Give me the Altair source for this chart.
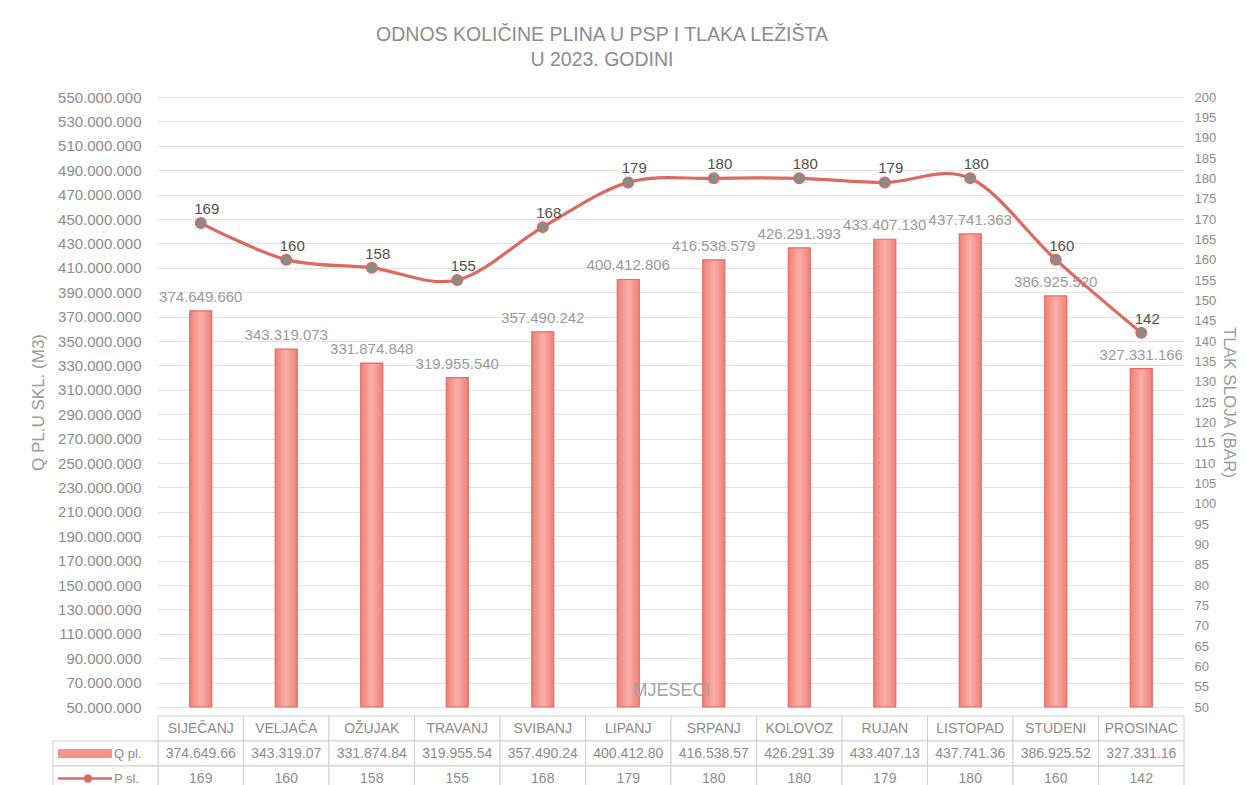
import altair as alt
import pandas as pd

months = ["SIJEČANJ", "VELJAČA", "OŽUJAK", "TRAVANJ", "SVIBANJ", "LIPANJ",
          "SRPANJ", "KOLOVOZ", "RUJAN", "LISTOPAD", "STUDENI", "PROSINAC"]
q_pl = [374649660, 343319073, 331874848, 319955540, 357490242, 400412806,
        416538579, 426291393, 433407130, 437741363, 386925520, 327331166]
p_sl = [169, 160, 158, 155, 168, 179, 180, 180, 179, 180, 160, 142]

left_ticks = list(range(50_000_000, 550_000_001, 20_000_000))
right_ticks = list(range(50, 201, 5))

title_lines = ["ODNOS KOLIČINE PLINA U PSP I TLAKA LEŽIŠTA", "U 2023. GODINI"]
left_title = "Q PL.U SKL. (M3)"
right_title = "TLAK SLOJA (BAR)"
x_title = "MJESECI"
row_names = ["Q pl.", "P sl."]

def dotted(v):
    return f"{v:,}".replace(",", ".")

df = pd.DataFrame({
    "month": months,
    "q": q_pl,
    "p": p_sl,
    "qlabel": [dotted(v) for v in q_pl],
})

W = 1026
H = 610
FONT = "Liberation Sans"
GRAY = "#8c8c8c"
BAR_FILL = "#f4948c"
BAR_STROKE = "#e46c64"
LINE_COLOR = "#da6a62"

bar_gradient = alt.LinearGradient(
    gradient="linear", x1=0, x2=1, y1=0, y2=0,
    stops=[alt.GradientStop(color="#ef8078", offset=0),
           alt.GradientStop(color="#f9b0a8", offset=0.5),
           alt.GradientStop(color="#ef8078", offset=1)])

xscale = alt.Scale(paddingInner=0, paddingOuter=0)
xenc = alt.X("month:N", sort=months, scale=xscale,
             axis=alt.Axis(labels=False, ticks=False, domain=False, grid=False,
                           title=x_title, titleY=-8, titleBaseline="bottom",
                           titleFontSize=18, titleColor="#a4a4a4", zindex=2,
                           titleFontWeight="normal", titleFont=FONT))

yleft_enc = alt.Y("q:Q",
                  scale=alt.Scale(domain=[50_000_000, 550_000_000], nice=False, zero=False),
                  axis=alt.Axis(values=left_ticks, title=left_title, labelOverlap=False,
                                labelExpr="replace(replace(format(datum.value, ',d'), ',', '.'), ',', '.')",
                                labelFont=FONT, labelFontSize=15, labelColor=GRAY,
                                labelPadding=17, ticks=False, domain=False,
                                grid=True, gridColor="#e3e3e3", gridWidth=1,
                                titleFont=FONT, titleFontSize=17, titleColor="#9a9a9a",
                                titleFontWeight="normal", titlePadding=10))

yright_enc = alt.Y("p:Q",
                   scale=alt.Scale(domain=[50, 200], nice=False, zero=False),
                   axis=alt.Axis(orient="right", values=right_ticks, title=right_title,
                                 labelOverlap=False,
                                 labelFont=FONT, labelFontSize=13, labelColor=GRAY,
                                 labelPadding=10, ticks=False, domain=False, grid=False,
                                 titleFont=FONT, titleFontSize=17, titleColor="#9a9a9a",
                                 titleFontWeight="normal", titlePadding=4, titleAngle=90))

base = alt.Chart()

bars = base.mark_bar(size=22, fill=bar_gradient, stroke=BAR_STROKE, strokeWidth=1.2).encode(
    y2=alt.datum(50_000_000),
)
bar_labels = base.mark_text(font=FONT, fontSize=15, color="#9a9a9a", dy=-14).encode(
    text="qlabel:N",
)

line = base.mark_line(color=LINE_COLOR, strokeWidth=3.2, interpolate="cardinal")
points = base.mark_point(filled=True, size=110, fill="#878d88", stroke=LINE_COLOR,
                         strokeWidth=1.5, opacity=1)
line_labels = base.mark_text(font=FONT, fontSize=15, color="#505050", dy=-14, dx=6).encode(
    text="p:Q",
)

left_layer = alt.layer(bars, bar_labels).encode(y=yleft_enc)
right_layer = alt.layer(line, points, line_labels).encode(y=yright_enc)

main = alt.layer(left_layer, right_layer, data=df).encode(x=xenc).resolve_scale(
    y="independent").properties(
    width=W, height=H,
    title=alt.TitleParams(title_lines, font=FONT, fontSize=19.5, fontWeight="normal",
                          color="#8c8c8c", anchor="middle", dx=-69, offset=20,
                          lineHeight=25),
)

# data table below the chart
rows = []
for i, m in enumerate(months):
    rows.append({"month": m, "row": "M", "text": m})
    rows.append({"month": m, "row": "Q", "text": dotted(q_pl[i])[:-1]})
    rows.append({"month": m, "row": "P", "text": str(p_sl[i])})
tdf = pd.DataFrame(rows)
legend_df = pd.DataFrame({"row": ["Q", "P"], "name": row_names})

TH = 75
tx = alt.X("month:N", sort=months, scale=alt.Scale(paddingInner=0, paddingOuter=0), axis=None)
ty = alt.Y("row:N", sort=["M", "Q", "P"], scale=alt.Scale(domain=["M", "Q", "P"], paddingInner=0, paddingOuter=0), axis=None)

cells = alt.Chart(tdf).mark_rect(fill="white", stroke="#cfcfcf", strokeWidth=1).encode(x=tx, y=ty)
cell_text = alt.Chart(tdf).mark_text(font=FONT, fontSize=14, color=GRAY).encode(x=tx, y=ty, text="text:N")

leg_cells = alt.Chart(legend_df).mark_rect(fill="white", stroke="#cfcfcf", strokeWidth=1).encode(
    x=alt.value(-105), x2=alt.value(0), y=ty)
leg_text = alt.Chart(legend_df).mark_text(font=FONT, fontSize=13, color=GRAY, align="left").encode(
    x=alt.value(-44), y=ty, text="name:N")
q_swatch = alt.Chart(legend_df).transform_filter("datum.row == 'Q'").mark_rule(
    color=BAR_FILL, strokeWidth=9, strokeCap="butt").encode(
    x=alt.value(-100), x2=alt.value(-46), y=ty)
p_swatch = alt.Chart(legend_df).transform_filter("datum.row == 'P'").mark_rule(
    color=LINE_COLOR, strokeWidth=2.5).encode(
    x=alt.value(-100), x2=alt.value(-46), y=ty)
p_marker = alt.Chart(legend_df).transform_filter("datum.row == 'P'").mark_point(
    filled=True, size=70, fill=LINE_COLOR, opacity=1).encode(
    x=alt.value(-70), y=ty)

table = alt.layer(cells, cell_text, leg_cells, leg_text, q_swatch, p_swatch, p_marker).properties(
    width=W, height=TH)

chart = alt.vconcat(main, table, spacing=0).configure(
    padding={"left": 21, "top": 16, "right": 0, "bottom": 0},
    background="white",
).configure_view(stroke=None)

chart.save("out.html", embed_options={"renderer": "svg", "actions": False})
